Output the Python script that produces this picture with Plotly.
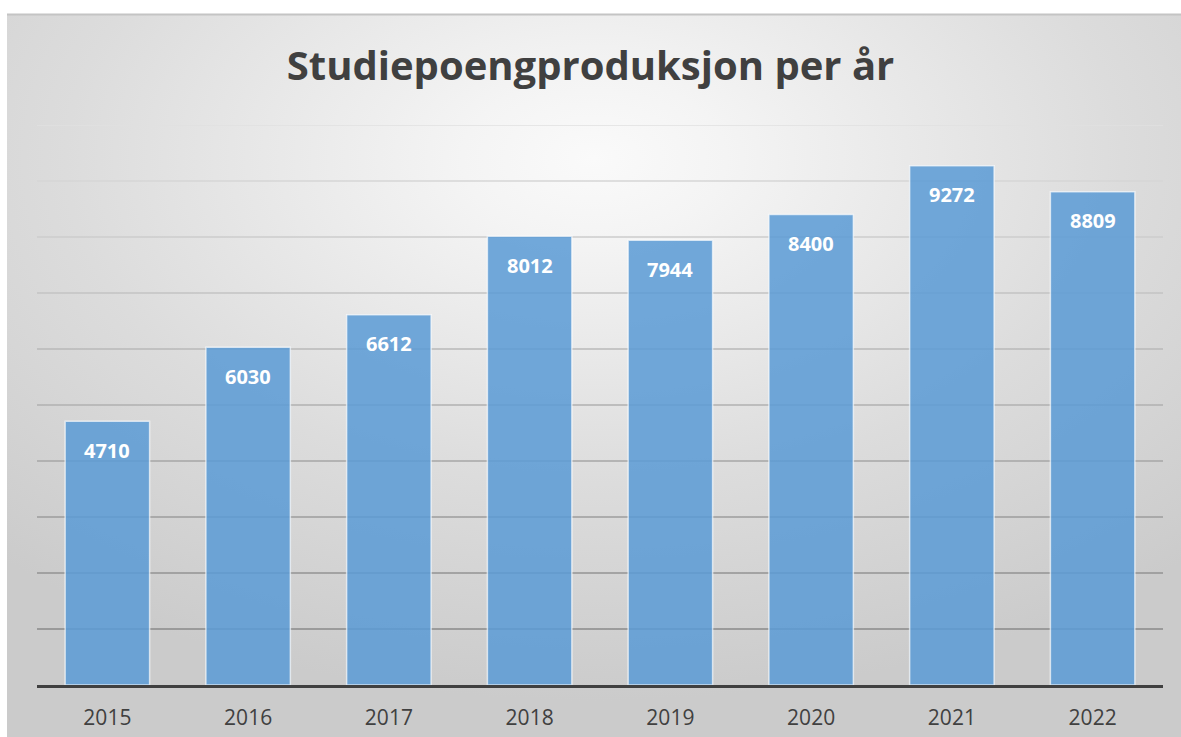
import base64

import plotly.graph_objects as go

# data
years = ["2015", "2016", "2017", "2018", "2019", "2020", "2021", "2022"]
credits = [4710, 6030, 6612, 8012, 7944, 8400, 9272, 8809]
grid_levels = [1000, 2000, 3000, 4000, 5000, 6000, 7000, 8000, 9000, 10000]

chart_title = "Studiepoengproduksjon per år"

# background: radial grey gradient like the Excel chart area
svg = """<svg xmlns='http://www.w3.org/2000/svg' width='1174' height='723' viewBox='0 0 1174 723' preserveAspectRatio='none'>
<defs><radialGradient id='g' cx='0.5' cy='0.2' r='0.75' fx='0.5' fy='0.2'>
<stop offset='0' stop-color='#fafafa'/>
<stop offset='0.15' stop-color='#f4f4f4'/>
<stop offset='0.6' stop-color='#dcdcdc'/>
<stop offset='1' stop-color='#cbcbcb'/>
</radialGradient></defs>
<rect x='0' y='0' width='1174' height='723' fill='url(#g)'/>
</svg>"""
bg_src = "data:image/svg+xml;base64," + base64.b64encode(svg.encode()).decode()

W, H = 1181, 737
L, R, T, B = 37, 18, 125, 52
pw, ph = W - L - R, H - T - B


def px_x(x):
    return (x - L) / pw


def px_y(y):
    return (H - B - y) / ph


# gridlines get lighter towards the top, as in the original
def grid_color(v):
    f = (v - 1000) / 9000
    c = int(138 + f * (224 - 138))
    return "rgb(%d,%d,%d)" % (c, c, c)


shapes = [dict(
    type="line", xref="paper", yref="paper",
    x0=px_x(7), x1=px_x(1181), y0=px_y(14.5), y1=px_y(14.5),
    line=dict(color="#c4c4c4", width=2),
)]
for g in grid_levels:
    shapes.append(dict(
        type="line", xref="paper", yref="y",
        x0=0, x1=1, y0=g, y1=g,
        line=dict(color=grid_color(g), width=1.5),
        layer="below",
    ))

# value labels inside the top of each bar (x = category index)
labels = [dict(
    x=i, y=v, xref="x", yref="y",
    text="<b>%d</b>" % v,
    showarrow=False,
    yanchor="middle",
    yshift=-29,
    font=dict(family="Open Sans", size=20, color="white"),
) for i, v in enumerate(credits)]

fig = go.Figure()

fig.add_trace(go.Bar(
    x=years,
    y=credits,
    width=0.6,
    marker=dict(color="rgba(91,155,213,0.86)",
                line=dict(color="rgba(255,255,255,0.65)", width=1.5)),
    hoverinfo="x+y",
))

fig.update_layout(
    width=W,
    height=H,
    margin=dict(l=L, r=R, t=T, b=B, pad=0),
    paper_bgcolor="white",
    plot_bgcolor="rgba(0,0,0,0)",
    showlegend=False,
    title=dict(
        text="<b>" + chart_title + "</b>",
        x=0.5,
        xanchor="center",
        y=1 - 66 / H,
        yanchor="middle",
        font=dict(family="Open Sans", size=40, color="#404040"),
    ),
    images=[dict(
        source=bg_src,
        xref="paper", yref="paper",
        x=px_x(7), y=px_y(14),
        sizex=px_x(1181) - px_x(7), sizey=px_y(14) - px_y(737),
        sizing="stretch",
        xanchor="left", yanchor="top",
        layer="below",
    )],
    shapes=shapes,
    annotations=labels,
)

fig.update_xaxes(
    type="category",
    categoryorder="array",
    categoryarray=years,
    range=[-0.5, len(years) - 0.5],
    showline=True,
    linecolor="#404040",
    linewidth=3,
    ticks="",
    tickfont=dict(family="Open Sans", size=21, color="#404040"),
    ticklabelstandoff=12,
    automargin=False,
)
fig.update_yaxes(
    range=[0, 10000],
    showticklabels=False,
    showgrid=False,
    zeroline=False,
    automargin=False,
)

fig.write_html("out.html", config={"displayModeBar": False},
               post_script="document.body.style.margin='0';")
